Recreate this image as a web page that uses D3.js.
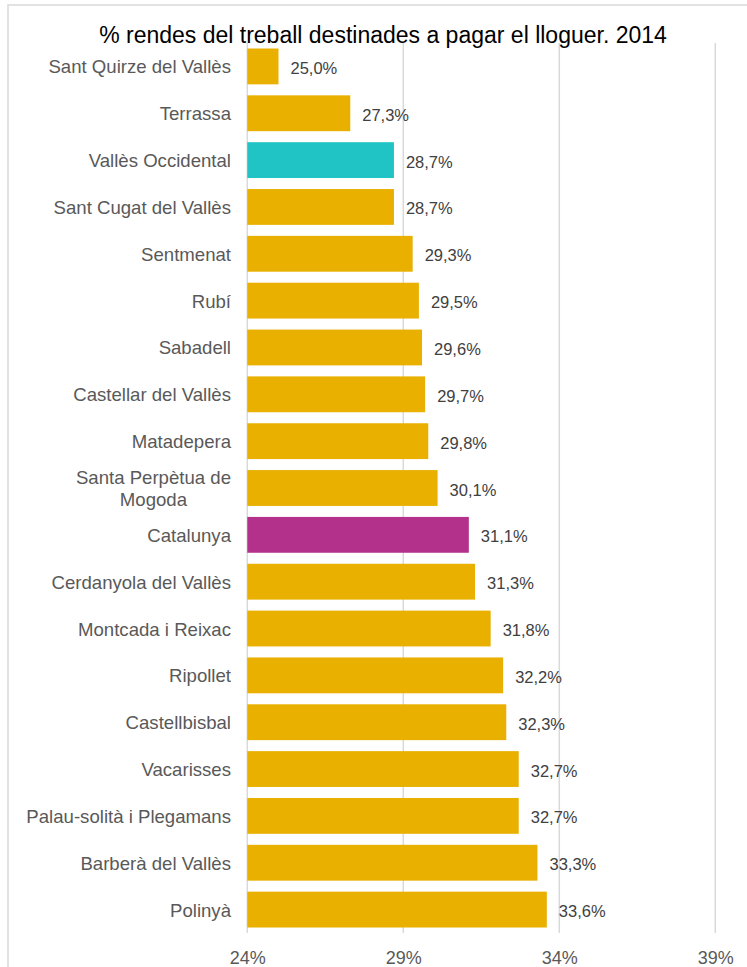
<!DOCTYPE html>
<html>
<head>
<meta charset="utf-8">
<script src="https://cdn.jsdelivr.net/npm/d3@7"></script>
<style>
  html, body { margin: 0; padding: 0; background: #fff; overflow: hidden; }
  svg { display: block; font-family: Arial, "Liberation Sans", sans-serif; }
</style>
</head>
<body>
<script>
// chart data
const title = "% rendes del treball destinades a pagar el lloguer. 2014";
const municipis = [
  "Sant Quirze del Vallès", "Terrassa", "Vallès Occidental", "Sant Cugat del Vallès",
  "Sentmenat", "Rubí", "Sabadell", "Castellar del Vallès", "Matadepera",
  "Santa Perpètua de Mogoda", "Catalunya", "Cerdanyola del Vallès", "Montcada i Reixac",
  "Ripollet", "Castellbisbal", "Vacarisses", "Palau-solità i Plegamans",
  "Barberà del Vallès", "Polinyà"
];
const percentatges = [
  25.0, 27.3, 28.7, 28.7, 29.3, 29.5, 29.6, 29.7, 29.8,
  30.1, 31.1, 31.3, 31.8, 32.2, 32.3, 32.7, 32.7, 33.3, 33.6
];
const xTicks = [24, 29, 34, 39];
// labels that Excel wrapped onto two lines
const labelLines = { "Santa Perpètua de Mogoda": ["Santa Perpètua de", "Mogoda"] };
// highlighted bars
const highlight = { "Vallès Occidental": "#21c4c4", "Catalunya": "#b3308b" };
const baseColor = "#e9b000";

const W = 747, H = 967;
const plotLeft = 247.3, plotRight = 715.3, plotTop = 43, plotBottom = 933;

const svg = d3.select("body").append("svg")
  .attr("width", W).attr("height", H);

// chart frame (runs off the right and bottom edges)
svg.append("rect")
  .attr("x", 8).attr("y", 5)
  .attr("width", 760).attr("height", 980)
  .attr("fill", "none").attr("stroke", "#d9d9d9").attr("stroke-width", 1.5);

const x = d3.scaleLinear().domain([24, 39]).range([plotLeft, plotRight]);
const y = d3.scaleBand().domain(municipis).range([plotTop, plotBottom])
  .paddingInner(0.235).paddingOuter(0.1175);

// vertical gridlines
svg.append("g").selectAll("line")
  .data(xTicks).join("line")
  .attr("x1", d => x(d)).attr("x2", d => x(d))
  .attr("y1", plotTop).attr("y2", plotBottom)
  .attr("stroke", "#d9d9d9").attr("stroke-width", 1.5);

// bottom axis, labels only
const xAxis = d3.axisBottom(x).tickValues(xTicks)
  .tickFormat(d => d + "%").tickSize(0).tickPadding(0);
svg.append("g")
  .attr("transform", `translate(0,${plotBottom})`)
  .call(xAxis)
  .call(g => g.select(".domain").remove())
  .call(g => g.selectAll("text")
    .attr("dy", null).attr("y", 31)
    .attr("fill", "#595959").attr("font-size", 18)
    .attr("font-family", 'Arial, "Liberation Sans", sans-serif'));

const data = municipis.map((m, i) => ({ name: m, value: percentatges[i] }));

// bars
svg.append("g").selectAll("rect")
  .data(data).join("rect")
  .attr("x", x(24))
  .attr("y", d => y(d.name))
  .attr("width", d => x(d.value) - x(24))
  .attr("height", y.bandwidth())
  .attr("fill", d => highlight[d.name] || baseColor);

// value labels
const fmt = v => v.toFixed(1).replace(".", ",") + "%";
svg.append("g").selectAll("text")
  .data(data).join("text")
  .attr("x", d => x(d.value) + 12)
  .attr("y", d => y(d.name) + y.bandwidth() / 2 + 7.5)
  .attr("fill", "#404040").attr("font-size", 16.5)
  .text(d => fmt(d.value));

// category labels, right aligned against the plot
const cat = svg.append("g").selectAll("text")
  .data(data).join("text")
  .attr("fill", "#595959").attr("font-size", 18.6);

cat.each(function(d) {
  const t = d3.select(this);
  const cy = y(d.name) + y.bandwidth() / 2;
  const lines = labelLines[d.name];
  if (!lines) {
    t.attr("x", 231).attr("y", cy + 7).attr("text-anchor", "end").text(d.name);
    return;
  }
  // multi-line: block is right aligned, lines centred inside it
  const spans = t.selectAll("tspan").data(lines).join("tspan").text(l => l);
  const widest = d3.max(spans.nodes(), n => n.getComputedTextLength());
  const lh = 22;
  spans.attr("text-anchor", "middle")
    .attr("x", 231 - widest / 2)
    .attr("y", (l, i) => cy + 7 + (i - (lines.length - 1) / 2) * lh);
});

// title
svg.append("text")
  .attr("x", 383).attr("y", 43)
  .attr("text-anchor", "middle")
  .attr("fill", "#000").attr("font-size", 23)
  .text(title);
</script>
</body>
</html>
